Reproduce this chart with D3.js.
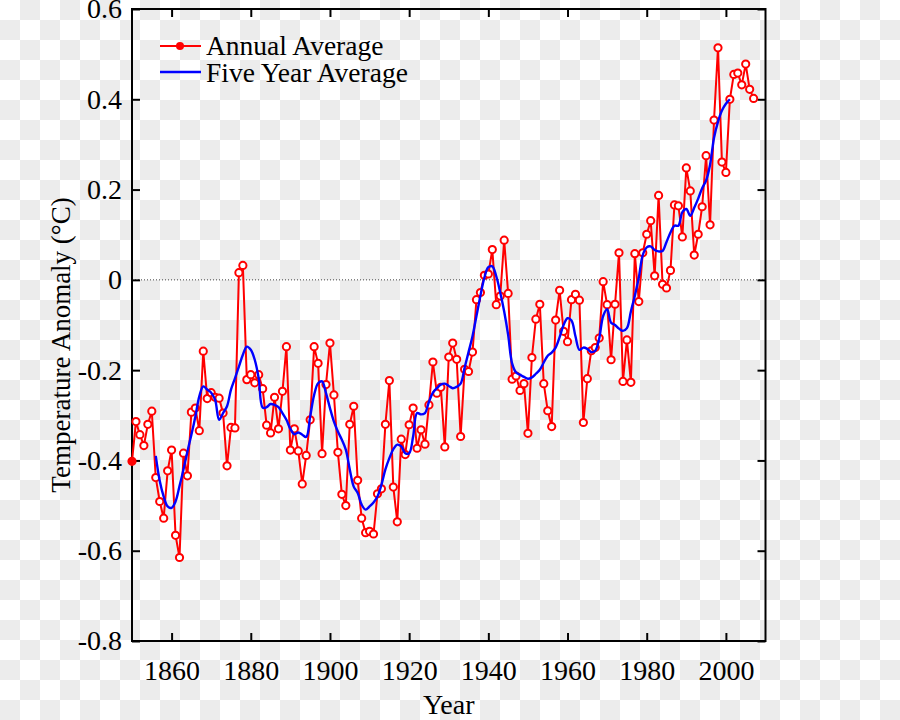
<!DOCTYPE html>
<html>
<head>
<meta charset="utf-8">
<script src="https://cdn.jsdelivr.net/npm/d3@7"></script>
<style>
  html, body { margin: 0; padding: 0; background: #fff; }
  svg { display: block; }
  text { font-family: "Liberation Serif", "Times New Roman", serif; fill: #000; }
</style>
</head>
<body>
<svg id="chart" width="900" height="720"></svg>
<script>
// ---- data ----
const annualStart = 1850;
const annual = [
  -0.402, -0.314, -0.343, -0.367, -0.320, -0.291, -0.438, -0.491, -0.528, -0.423,
  -0.377, -0.566, -0.615, -0.384, -0.434, -0.293, -0.284, -0.334, -0.158, -0.263,
  -0.250, -0.260, -0.262, -0.295, -0.412, -0.327, -0.328,  0.016,  0.032, -0.221,
  -0.210, -0.228, -0.210, -0.241, -0.322, -0.339, -0.260, -0.330, -0.247, -0.148,
  -0.377, -0.330, -0.379, -0.452, -0.389, -0.310, -0.148, -0.185, -0.385, -0.232,
  -0.140, -0.255, -0.382, -0.475, -0.500, -0.320, -0.280, -0.444, -0.528, -0.560,
  -0.557, -0.563, -0.474, -0.463, -0.320, -0.223, -0.459, -0.536, -0.353, -0.387,
  -0.321, -0.284, -0.373, -0.332, -0.364, -0.277, -0.182, -0.251, -0.238, -0.370,
  -0.171, -0.140, -0.176, -0.347, -0.198, -0.203, -0.160, -0.044, -0.028,  0.010,
   0.013,  0.067, -0.055, -0.036,  0.088, -0.030, -0.220, -0.213, -0.245, -0.230,
  -0.340, -0.172, -0.087, -0.054, -0.230, -0.290, -0.325, -0.089, -0.023, -0.114,
  -0.137, -0.044, -0.032, -0.045, -0.316, -0.219, -0.157, -0.150, -0.129, -0.004,
  -0.055, -0.177, -0.054,  0.060, -0.225, -0.133, -0.227,  0.058, -0.048,  0.060,
   0.101,  0.131,  0.009,  0.187, -0.010, -0.018,  0.021,  0.166,  0.164,  0.095,
   0.248,  0.197,  0.055,  0.101,  0.162,  0.275,  0.122,  0.354,  0.514,  0.261,
   0.238,  0.400,  0.455,  0.458,  0.432,  0.478,  0.422,  0.402
];
const fiveYearStart = 1856;
const fiveYear = [
  -0.390, -0.445, -0.480, -0.502,
  -0.505, -0.491, -0.457, -0.420, -0.380, -0.343, -0.303, -0.258, -0.236, -0.243,
  -0.250, -0.266, -0.310, -0.295, -0.280, -0.243, -0.218, -0.192, -0.166, -0.148,
  -0.155, -0.177, -0.218, -0.283, -0.282, -0.275, -0.277, -0.282, -0.295, -0.310,
  -0.330, -0.342, -0.338, -0.343, -0.348, -0.303, -0.255, -0.229, -0.225, -0.251,
  -0.284, -0.314, -0.336, -0.354, -0.376, -0.420, -0.458, -0.472, -0.498, -0.509,
  -0.502, -0.493, -0.480, -0.454, -0.420, -0.395, -0.375, -0.365, -0.369, -0.384,
  -0.384, -0.347, -0.295, -0.298, -0.295, -0.270, -0.250, -0.240, -0.232, -0.230,
  -0.235, -0.240, -0.237, -0.230, -0.195, -0.160, -0.125, -0.080, -0.035,  0.005,
   0.028,  0.030,  0.008, -0.028, -0.070, -0.122, -0.185, -0.205, -0.210, -0.215,
  -0.219, -0.216, -0.208, -0.199, -0.183, -0.168, -0.161, -0.150, -0.127, -0.100,
  -0.085, -0.090, -0.125, -0.155, -0.150, -0.153, -0.160, -0.157, -0.130, -0.080,
  -0.065, -0.095, -0.100, -0.108, -0.113, -0.107, -0.070, -0.035,  0.005,  0.055,
   0.072,  0.074,  0.066,  0.063,  0.064,  0.084,  0.105,  0.120,  0.120,  0.150,
   0.157,  0.142,  0.160,  0.180,  0.203,  0.220,  0.255,  0.315,  0.350,  0.375,
   0.390,  0.400
];
const xTicks = [1860, 1880, 1900, 1920, 1940, 1960, 1980, 2000];
const yTicks = [-0.8, -0.6, -0.4, -0.2, 0, 0.2, 0.4, 0.6];
const yTickLabels = ["-0.8", "-0.6", "-0.4", "-0.2", "0", "0.2", "0.4", "0.6"];
const seriesNames = ["Annual Average", "Five Year Average"];
const xTitle = "Year";
const yTitle = "Temperature Anomaly (°C)";

// ---- build ----
const annualData = annual.map((v, i) => ({ year: annualStart + i, value: v }));
const fiveData = fiveYear.map((v, i) => ({ year: fiveYearStart + i, value: v }));

const svg = d3.select("#chart");
const W = 900, H = 720;
const L = 132, R = 765.5, T = 9, B = 641;

// checkerboard background (transparent-look)
const defs = svg.append("defs");
const pat = defs.append("pattern").attr("id", "checker")
  .attr("width", 40).attr("height", 40).attr("patternUnits", "userSpaceOnUse");
pat.append("rect").attr("width", 40).attr("height", 40).attr("fill", "#ffffff");
pat.append("rect").attr("x", 20).attr("y", 0).attr("width", 20).attr("height", 20).attr("fill", "#ececec");
pat.append("rect").attr("x", 0).attr("y", 20).attr("width", 20).attr("height", 20).attr("fill", "#ececec");
svg.append("rect").attr("width", W).attr("height", H).attr("fill", "url(#checker)");

const x = d3.scaleLinear().domain([1850, 2010]).range([L, R]);
const y = d3.scaleLinear().domain([-0.8, 0.6]).range([B, T]);

// zero reference line
svg.append("line")
  .attr("x1", L).attr("x2", R).attr("y1", y(0)).attr("y2", y(0))
  .attr("stroke", "#444").attr("stroke-width", 1).attr("stroke-dasharray", "1,2");

// axes
const tickFont = 28;
const legendFont = 27.5;
const titleFont = 27;
const fmt = d => yTickLabels[yTicks.indexOf(d)];
const gl = svg.append("g").attr("transform", `translate(${L},0)`)
  .call(d3.axisLeft(y).tickValues(yTicks).tickFormat(fmt).tickSize(-8).tickPadding(10));
const gr = svg.append("g").attr("transform", `translate(${R},0)`)
  .call(d3.axisRight(y).tickValues(yTicks).tickFormat("").tickSize(-8));
const gb = svg.append("g").attr("transform", `translate(0,${B})`)
  .call(d3.axisBottom(x).tickValues(xTicks).tickFormat(d3.format("d")).tickSize(-8).tickPadding(19));
const gt = svg.append("g").attr("transform", `translate(0,${T})`)
  .call(d3.axisTop(x).tickValues(xTicks).tickFormat("").tickSize(-8));
[gl, gr, gb, gt].forEach(g => {
  g.select(".domain").remove();
  g.selectAll(".tick line").attr("stroke", "#000").attr("stroke-width", 2);
  g.selectAll(".tick text").attr("font-family", "Liberation Serif, serif")
    .attr("font-size", tickFont).attr("fill", "#000");
});

// frame
svg.append("rect").attr("x", L).attr("y", T).attr("width", R - L).attr("height", B - T)
  .attr("fill", "none").attr("stroke", "#000").attr("stroke-width", 2);

// annual line
svg.append("path").datum(annualData)
  .attr("fill", "none").attr("stroke", "#ff0000").attr("stroke-width", 2)
  .attr("stroke-linejoin", "round")
  .attr("d", d3.line().x(d => x(d.year)).y(d => y(d.value)));

svg.append("g").selectAll("circle").data(annualData).join("circle")
  .attr("cx", d => x(d.year)).attr("cy", d => y(d.value)).attr("r", 3.6)
  .attr("fill", (d, i) => i === 0 ? "#ff0000" : "#ffffff")
  .attr("stroke", "#ff0000").attr("stroke-width", 2);

// five-year line
svg.append("path").datum(fiveData)
  .attr("fill", "none").attr("stroke", "#0000ff").attr("stroke-width", 2.4)
  .attr("d", d3.line().curve(d3.curveCatmullRom.alpha(0.5)).x(d => x(d.year)).y(d => y(d.value)));

// legend
const lg = svg.append("g");
lg.append("line").attr("x1", 160).attr("x2", 201).attr("y1", 46).attr("y2", 46)
  .attr("stroke", "#ff0000").attr("stroke-width", 2);
lg.append("circle").attr("cx", 180).attr("cy", 46).attr("r", 4).attr("fill", "#ff0000");
lg.append("text").attr("x", 206).attr("y", 55).attr("font-size", legendFont).text(seriesNames[0]);
lg.append("line").attr("x1", 160).attr("x2", 201).attr("y1", 72).attr("y2", 72)
  .attr("stroke", "#0000ff").attr("stroke-width", 2.4);
lg.append("text").attr("x", 206).attr("y", 82).attr("font-size", legendFont).text(seriesNames[1]);

// titles
svg.append("text").attr("x", (L + R) / 2).attr("y", 714).attr("text-anchor", "middle")
  .attr("font-size", tickFont).text(xTitle);
svg.append("text").attr("transform", "translate(70,345) rotate(-90)")
  .attr("text-anchor", "middle").attr("font-size", titleFont).text(yTitle);
</script>
</body>
</html>
